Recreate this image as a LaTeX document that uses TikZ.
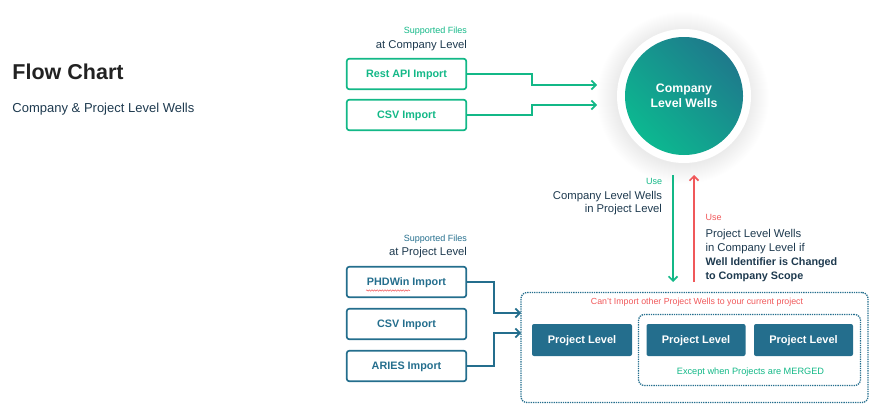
\documentclass[tikz,border=0pt]{standalone}
\usepackage{fontspec}
\setmainfont{Liberation Sans}
\usetikzlibrary{arrows.meta,decorations.pathmorphing}
\definecolor{cgreen}{HTML}{13B887}
\definecolor{cblue}{HTML}{246E8D}
\definecolor{cdark}{HTML}{1E3A4F}
\definecolor{cred}{HTML}{F0585A}
\definecolor{ctitle}{HTML}{222222}
\definecolor{cteal}{HTML}{1E7A8C}
\definecolor{cgrad}{HTML}{0CB890}
\begin{document}
\begin{tikzpicture}[x=1pt,y=-1pt,
  every node/.style={inner sep=0pt,outer sep=0pt},
  fs/.style={font=\fontsize{#1}{#1}\selectfont},
  fsb/.style={font=\fontsize{#1}{#1}\selectfont\bfseries},
  gbox/.style={draw=cgreen,line width=1.7pt,rounded corners=2.5pt,minimum width=119.5pt,minimum height=30.5pt,fsb=10.8,text=cgreen,text height=7.8pt,text depth=0pt},
  bbox/.style={draw=cblue,line width=1.7pt,rounded corners=2.5pt,minimum width=119.5pt,minimum height=30.5pt,fsb=10.8,text=cblue,text height=7.8pt,text depth=0pt},
  pbox/.style={fill=cblue,rounded corners=2pt,minimum height=32pt,fsb=11,text=white,text height=7.9pt,text depth=0pt},
  dotbox/.style={draw=cblue,line width=1.3pt,dash pattern=on 1.3pt off 1pt,rounded corners=6pt},
  garrow/.style={draw=cgreen,line width=1.7pt,-{Straight Barb[length=4.5pt,width=9pt,line width=1.7pt]}},
  barrow/.style={draw=cblue,line width=1.7pt,-{Straight Barb[length=4.5pt,width=9pt,line width=1.7pt]}},
  rarrow/.style={draw=cred,line width=1.7pt,-{Straight Barb[length=4.5pt,width=9pt,line width=1.7pt]}},
]
\useasboundingbox (0,0) rectangle (882,407);

% title
\node[anchor=base west,fsb=21.5,text=ctitle] (title) at (12.5,79) {Flow Chart};
\node[anchor=base west,fs=13,text=cdark] (subtitle) at (12.5,112) {Company \& Project Level Wells};

% company level inputs
\node[anchor=base east,fs=9,text=cgreen] (sf1) at (467,33.5) {Supported Files};
\node[anchor=base east,fs=11.3,text=cdark] (acl) at (467,48) {at Company Level};
\node[gbox] (rest) at (406.5,74) {Rest API Import};
\node[gbox] (csv1) at (406.5,115) {CSV Import};

% circle with soft shadow
\foreach \r in {67,...,86}{
  \fill[black,opacity=0.005] (683,98) circle (\r pt);
}
\node[circle,fill=white,minimum size=134pt] (ring) at (684,96) {};
\node[circle,minimum size=118pt,top color=cteal,bottom color=cgrad,shading angle=-45,
      fsb=12.3,text=white,align=center] (clw) at (684,96) {Company\\[2.7pt]Level Wells};

\coordinate (t1) at (597,85);
\coordinate (t2) at (597,105);
\draw[garrow] (rest.east) -- (532,74) |- (t1);
\draw[garrow] (csv1.east) -- (532,115) |- (t2);

% vertical arrows
\coordinate (gtop) at (673,175);
\coordinate (gbot) at (673,282);
\coordinate (rbot) at (694,282);
\coordinate (rtop) at (694,175);
\draw[garrow] (gtop) -- (gbot);
\draw[rarrow] (rbot) -- (rtop);

\node[anchor=base east,fs=9,text=cgreen] (use1) at (662,184.5) {Use};
\node[anchor=base east,fs=11.3,text=cdark] (u1a) at (662,199) {Company Level Wells};
\node[anchor=base east,fs=11.3,text=cdark] (u1b) at (662,212.5) {in Project Level};

\node[anchor=base west,fs=9,text=cred] (use2) at (705.5,220) {Use};
\node[anchor=base west,fs=11.3,text=cdark] (u2a) at (705.5,237) {Project Level Wells};
\node[anchor=base west,fs=11.3,text=cdark] (u2b) at (705.5,251) {in Company Level if};
\node[anchor=base west,fsb=10.8,text=cdark] (u2c) at (705.5,265) {Well Identifier is Changed};
\node[anchor=base west,fsb=10.8,text=cdark] (u2d) at (705.5,279) {to Company Scope};

% project level inputs
\node[anchor=base east,fs=9,text=cblue] (sf2) at (467,241) {Supported Files};
\node[anchor=base east,fs=11.3,text=cdark] (apl) at (467,255.5) {at Project Level};
\node[bbox] (phd) at (406.5,282) {PHDWin Import};
\node[bbox] (csv2) at (406.5,324) {CSV Import};
\node[bbox] (aries) at (406.5,366) {ARIES Import};
\draw[cred,line width=0.5pt,decorate,decoration={snake,amplitude=0.7pt,segment length=2.6pt}] (366,290.5) -- (410,290.5);

% project area
\node[dotbox,minimum width=347pt,minimum height=110pt] (outer) at (694.5,347.5) {};
\node[dotbox,minimum width=222pt,minimum height=71pt] (inner) at (749.5,350) {};
\node[fs=8.8,text=cred] (cant) at (697,302.5) {Can't Import other Project Wells to your current project};
\node[pbox,minimum width=100pt] (pl1) at (582,340) {Project Level};
\node[pbox,minimum width=99pt] (pl2) at (696,340) {Project Level};
\node[pbox,minimum width=99pt] (pl3) at (803.5,340) {Project Level};
\node[fs=9.2,text=cgreen] (merged) at (750.5,372) {Except when Projects are MERGED};

\coordinate (a1) at (521,313);
\coordinate (a2) at (521,333);
\draw[barrow] (phd.east) -- (494,282) |- (a1);
\draw[barrow] (aries.east) -- (494,366) |- (a2);
\end{tikzpicture}
\end{document}
